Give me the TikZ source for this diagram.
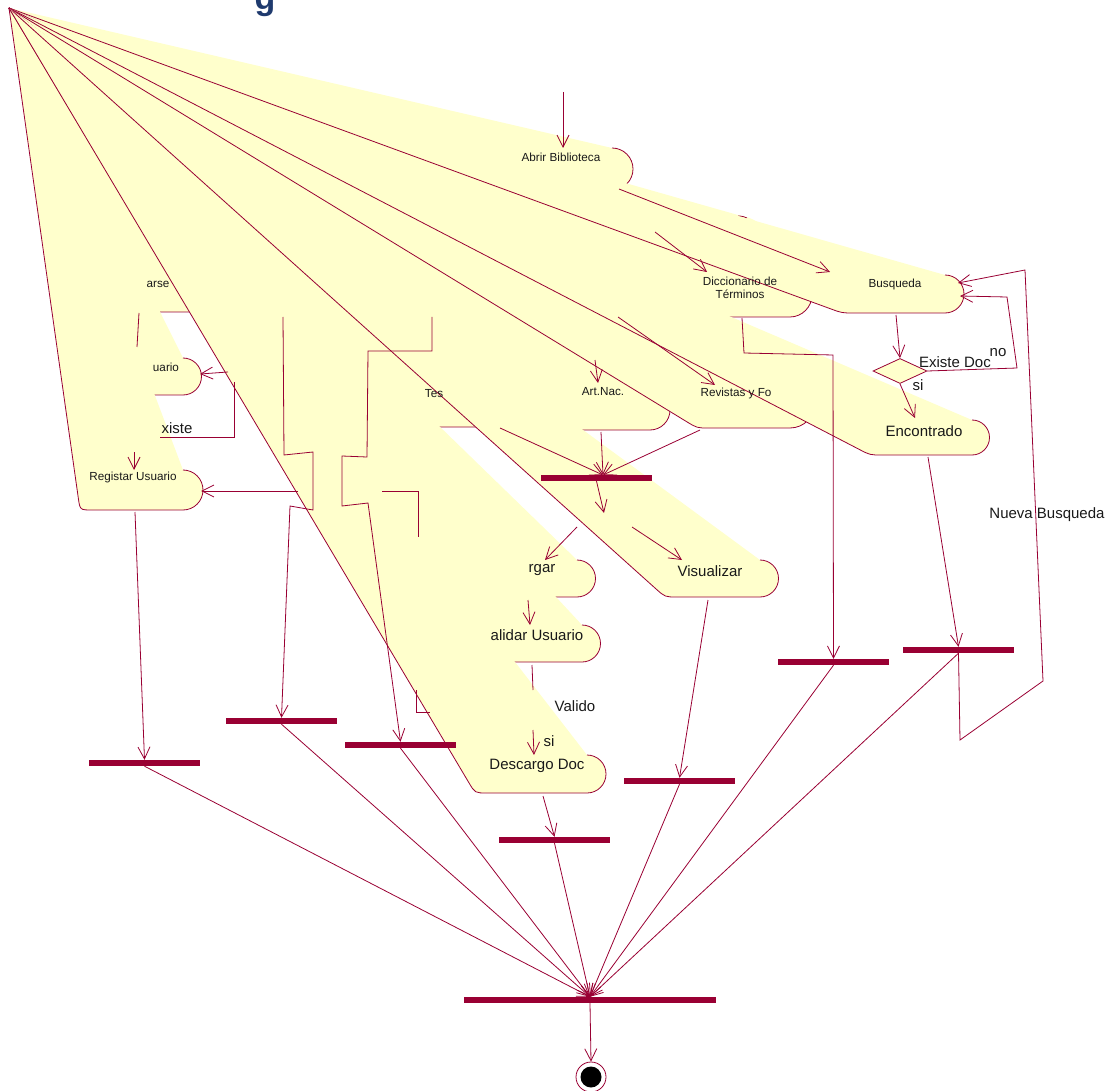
\documentclass[tikz,border=0pt]{standalone}
\usepackage{fontspec}
\setmainfont{Liberation Sans}
\usetikzlibrary{arrows.meta,calc,shapes.geometric}

\definecolor{roseline}{HTML}{990033}
\definecolor{rosefill}{HTML}{FFFFCC}
\definecolor{titleblue}{HTML}{1F3A6E}

\tikzset{
  plain/.style={draw=roseline, line width=0.8pt},
  flow/.style={plain, -{Straight Barb[length=12pt,width=12pt]}},
  bar/.style={fill=roseline, minimum width=111pt, minimum height=6pt, inner sep=0pt},
  small/.style={font=\fontsize{11.7}{13.5}\selectfont, inner sep=0pt, text=black!90},
  big/.style={font=\fontsize{15}{17}\selectfont, inner sep=0pt, text=black!90}
}

% activity shape pulled to the apex: left x, bottom y, top y, arc x, arc radius
\newcommand{\actshape}[5]{%
  \fill[rosefill] (ap) -- (#4,#3)
    .. controls ({#4+0.5523*#5},#3) and ({#4+#5},{#3+#5-0.5523*#5}) .. ({#4+#5},{#3+#5})
    -- ({#4+#5},{#2-#5})
    .. controls ({#4+#5},{#2-#5+0.5523*#5}) and ({#4+0.5523*#5},#2) .. (#4,#2)
    -- ({#1+12},#2) .. controls (#1,#2) .. ($(#1,#2)!12pt!(ap)$) -- cycle;
  \draw[plain] (#4,#3)
    .. controls ({#4+0.5523*#5},#3) and ({#4+#5},{#3+#5-0.5523*#5}) .. ({#4+#5},{#3+#5})
    -- ({#4+#5},{#2-#5})
    .. controls ({#4+#5},{#2-#5+0.5523*#5}) and ({#4+0.5523*#5},#2) .. (#4,#2)
    -- ({#1+12},#2) .. controls (#1,#2) .. ($(#1,#2)!12pt!(ap)$) -- (ap);
}

\begin{document}
\begin{tikzpicture}[x=1pt, y=-1pt]
\useasboundingbox (0,0) rectangle (1109,1091);
\coordinate (ap) at (9,8);

\node[font=\bfseries\fontsize{34}{36}\selectfont, text=titleblue, anchor=base] (title) at (265,10) {g};

% activities, back to front
\actshape{470}{190}{148}{612}{21}    % Abrir Biblioteca
\actshape{100}{312}{262}{195}{25}    % ...arse
\actshape{95}{395}{358}{183}{18.5}   % ...uario
% Diccionario
\fill[rosefill] (ap) -- (745,217) .. controls (762,217) and (812,272) .. (812,295)
  .. controls (812,307) and (802,317) .. (790,317) -- (702,317)
  .. controls (690,317) .. ($(690,317)!12pt!(ap)$) -- cycle;
\draw[plain] (738,216) .. controls (742,216) and (745,217) .. (747,218);
\draw[plain] (812,295) .. controls (812,307) and (802,317) .. (790,317) -- (702,317)
  .. controls (690,317) .. ($(690,317)!12pt!(ap)$) -- (ap);
\actshape{380}{427}{372}{515}{27.5}  % Tes...
\actshape{560}{430}{390}{650}{20}    % Art.Nac.
\actshape{697}{428}{378}{790}{25}    % Revistas
\actshape{842}{313}{275}{945}{19}    % Busqueda
\actshape{870}{455}{420}{972}{17.5}  % Encontrado
\actshape{450}{597}{560}{577}{18.5}  % ...rgar
\actshape{665}{597}{560}{760}{18.5}  % Visualizar
\actshape{400}{662}{625}{582}{18.5}  % ...alidar Usuario
\actshape{80}{510}{470}{183}{20}     % Registar Usuario
\actshape{475}{793}{755}{587}{19}    % Descargo Doc

\node[diamond, fill=rosefill, draw=roseline, line width=0.8pt, minimum width=54pt, minimum height=25pt, inner sep=0pt] (existe) at (900,371) {};

% bars and final state
\node[bar] (barA) at (596.5,478) {};
\node[bar] (barB) at (833.5,662) {};
\node[bar] (barC) at (958.5,650) {};
\node[bar] (barD) at (144.5,763) {};
\node[bar] (barE) at (281.5,721) {};
\node[bar] (barF) at (400.5,745) {};
\node[bar] (barG) at (679.5,781) {};
\node[bar] (barH) at (554.5,840) {};
\node[bar, minimum width=252pt] (union) at (590,1000) {};
\node[circle, draw=roseline, line width=0.8pt, minimum size=30pt, inner sep=0pt] (fin) at (591,1077) {};
\node[circle, fill=black, minimum size=21pt, inner sep=0pt] (finIn) at (fin) {};

% connector ends
\coordinate (ini) at (563,92);      \coordinate (abrirN) at (563,148);
\coordinate (abrirSE) at (619,189); \coordinate (busqW) at (830,272);
\coordinate (abrirS) at (655,232);  \coordinate (diccN) at (707,272);
\coordinate (diccS) at (742,318);
\coordinate (busqS) at (896,315);   \coordinate (encN) at (915,418);
\coordinate (busqE) at (960,296);   \coordinate (busqNE) at (958,283);
\coordinate (encS) at (928,457);
\coordinate (visS) at (708,600);    \coordinate (descS) at (543,796);
\coordinate (valS) at (532,665);    \coordinate (valM) at (533,690);
\coordinate (valM2) at (533,730);   \coordinate (descN) at (534,755);
\coordinate (descgS) at (528,600);  \coordinate (valN) at (530,625);
\coordinate (dec) at (604,513);
\coordinate (dec1) at (577,527);    \coordinate (descgN) at (545,560);
\coordinate (dec2) at (632,527);    \coordinate (visN) at (682,560);
\coordinate (aIn) at (603,475);
\coordinate (artS) at (601,432);    \coordinate (tesS) at (500,428);
\coordinate (revS) at (700,430);
\coordinate (artIn) at (595,360);   \coordinate (artN) at (598,383);
\coordinate (revIn) at (618,317);   \coordinate (revN) at (715,385);
\coordinate (arseS) at (139,313);   \coordinate (arseM) at (137,347);
\coordinate (u1) at (228,372);      \coordinate (uarioE) at (200,374);
\coordinate (u2) at (234,382);      \coordinate (u4) at (160,437);
\coordinate (r0) at (134,452);      \coordinate (regN) at (134,470);
\coordinate (r1) at (298,491);      \coordinate (regE) at (201,491);
\coordinate (regS) at (135,512);
\coordinate (z1) at (283,317);      \coordinate (z2) at (432,317);

% connectors
\draw[flow] (ini) -- (abrirN);
\draw[flow] (abrirSE) -- (busqW);
\draw[flow] (abrirS) -- (diccN);
\draw[flow] (diccS) -- (744,353) -- (833,355) -- (barB.north);
\draw[flow] (busqS) -- (existe.north);
\draw[flow] (existe.south) -- (encN);
\draw[flow] (existe.east) -- (1017,368) -- (1007,297) -- (busqE);
\draw[flow] (encS) -- (barC.north);
\draw[flow] (barC.south) -- (960,740) -- (1043,681) -- (1025,270) -- (busqNE);
\draw[flow] (artIn) -- (artN);
\draw[flow] (revIn) -- (revN);
\draw[flow] (artS) -- (aIn);
\draw[flow] (tesS) -- (aIn);
\draw[flow] (revS) -- (aIn);
\draw[flow] (barA.south) -- (dec);
\draw[flow] (dec1) -- (descgN);
\draw[flow] (dec2) -- (visN);
\draw[flow] (descgS) -- (valN);
\draw[plain] (valS) -- (valM);
\draw[flow] (valM2) -- (descN);
\draw[flow] (descS) -- (barH.north);
\draw[flow] (visS) -- (barG.north);
\draw[plain] (arseS) -- (arseM);
\draw[flow] (u1) -- (uarioE);
\draw[plain] (u2) -- (234,437) -- (u4);
\draw[flow] (r0) -- (regN);
\draw[flow] (r1) -- (regE);
\draw[flow] (regS) -- (barD.north);
\draw[flow] (z1) -- (284,455) -- (313,452) -- (313,510) -- (290,506) -- (barE.north);
\draw[flow] (z2) -- (432,351) -- (368,351) -- (367,457) -- (342,456) -- (342,506) -- (368,503) -- (barF.north);
\draw[plain] (382,491) -- (418,491) -- (418,537);
\draw[plain] (416,690) -- (416,712) -- (430,712);
\foreach \b in {barB,barC,barD,barE,barF,barG,barH}
  \draw[flow] (\b.south) -- (union.north);
\draw[flow] (union.south) -- (fin.north);

% labels
\node[small] (tAbrir) at (561,157) {Abrir Biblioteca};
\node[small, align=center] (tDicc) at (740,288) {Diccionario de\\Términos};
\node[small] (tBusq) at (895,284) {Busqueda};
\node[small] (tArt) at (603,392) {Art.Nac.};
\node[small] (tRev) at (736,393) {Revistas y Fo};
\node[small] (tTes) at (434,394) {Tes};
\node[small] (tArse) at (158,284) {arse};
\node[small] (tUario) at (166,367) {uario};
\node[small] (tReg) at (133,477) {Registar Usuario};
\node[big] (tXiste) at (177,428) {xiste};
\node[big] (tExiste) at (955,362) {Existe Doc};
\node[big] (tNo) at (998,353) {no};
\node[big] (tSi) at (918,385) {si};
\node[big] (tEnc) at (924,431) {Encontrado};
\node[big] (tRgar) at (542,570) {rgar};
\node[big] (tVis) at (710,571) {Visualizar};
\node[big] (tVal) at (537,635) {alidar Usuario};
\node[big] (tValido) at (575,706) {Valido};
\node[big] (tSi2) at (549,741) {si};
\node[big] (tDesc) at (537,766) {Descargo Doc};
\node[big] (tNueva) at (1047,515) {Nueva Busqueda};
\end{tikzpicture}
\end{document}
